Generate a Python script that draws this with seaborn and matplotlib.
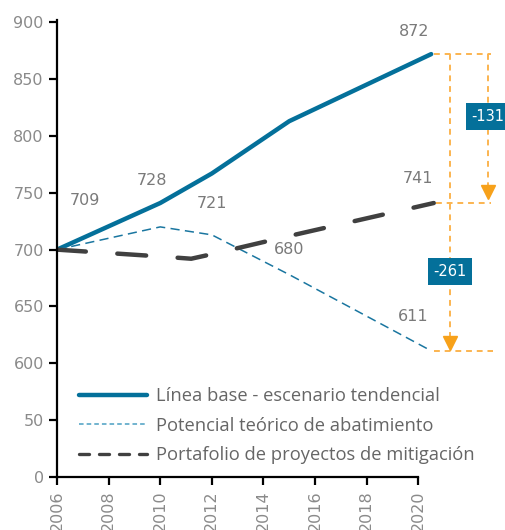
import pandas as pd
import seaborn as sns
import matplotlib.pyplot as plt
import numpy as np

# Línea base - escenario tendencial
base_years = [2006, 2010, 2012, 2015, 2020.5]
base_vals = [700, 741, 767, 813, 872]
# Potencial teórico de abatimiento
pot_years = [2006, 2010, 2012, 2015, 2020.5]
pot_vals = [700, 720, 713, 678, 611]
# Portafolio de proyectos de mitigación
port_years = [2006, 2010, 2011.2, 2012, 2015, 2020.6]
port_vals = [700, 694, 692, 696, 712, 741]

labels = ['Línea base - escenario tendencial',
          'Potencial teórico de abatimiento',
          'Portafolio de proyectos de mitigación']

# value labels shown on the chart (text, year, value position)
point_labels = [('709', 2007.1, 743), ('728', 2009.7, 761), ('721', 2012.0, 741),
                ('680', 2015.0, 700), ('611', 2019.8, 641), ('741', 2020.0, 763),
                ('872', 2019.85, 892)]

yticks = [500, 550, 600, 650, 700, 750, 800, 850, 900]
ytick_labels = ['0', '50', '600', '650', '700', '750', '800', '850', '900']
xticks = [2006, 2008, 2010, 2012, 2014, 2016, 2018, 2020]

blue = '#04709A'
line_blue = '#1A76A0'
legend_blue = '#4A9FC2'
dark = '#404040'
orange = '#F7A11A'
light_orange = '#FBB450'
grey = '#7a7a7a'

sns.set_style('ticks')
plt.rcParams['font.family'] = ['Open Sans', 'DejaVu Sans']

fig = plt.figure(figsize=(5.05, 5.30), dpi=100)
ax = fig.add_axes([57 / 505, 53 / 530, 448 / 505, 457 / 530])

sns.lineplot(x=base_years, y=base_vals, ax=ax, color=blue, linewidth=3.2,
             label=labels[0], solid_capstyle='round')
sns.lineplot(x=pot_years, y=pot_vals, ax=ax, color=line_blue, linewidth=1.1,
             label=labels[1])
ax.lines[-1].set_linestyle((0, (6, 3.5)))
sns.lineplot(x=port_years, y=port_vals, ax=ax, color=dark, linewidth=3.2,
             label=labels[2])
ax.lines[-1].set_linestyle((0, (6.5, 7.1)))
ax.lines[-1].set_dash_capstyle('round')

ax.set_xlim(2006, 2023.36)
ax.set_ylim(500, 902)
ax.spines['bottom'].set_bounds(2006, 2020)
ax.spines['left'].set_bounds(500, 902)
sns.despine(ax=ax)
for s in ['left', 'bottom']:
    ax.spines[s].set_color('black')
    ax.spines[s].set_linewidth(1.6)

ax.set_yticks(yticks)
ax.set_yticklabels(ytick_labels, family=['DejaVu Sans'])
ax.set_xticks(xticks)
ax.set_xticklabels([str(x) for x in xticks], rotation=90, family=['DejaVu Sans'])
ax.tick_params(axis='both', colors='black', labelcolor='#8a8a8a', labelsize=11.5,
               length=6, width=1.6)
ax.set_xlabel('')
ax.set_ylabel('')

for txt, x, y in point_labels:
    ax.text(x, y, txt, ha='center', va='center', fontsize=11.5, color=grey,
            family=['DejaVu Sans'])

# reduction annotations
odash = dict(color=light_orange, linewidth=1.4, linestyle=(0, (3, 2.5)), clip_on=False)
ax.plot([2020.6, 2022.8], [872, 872], **odash)
ax.plot([2020.7, 2022.8], [741, 741], **odash)
ax.plot([2020.6, 2022.9], [611, 611], **odash)
ax.plot([2022.7, 2022.7], [872, 752], **odash)
ax.plot([2021.23, 2021.23], [872, 620], **odash)
ax.plot([2022.7], [751], marker='v', markersize=9.5, color=orange, clip_on=False)
ax.plot([2021.23], [618], marker='v', markersize=9.5, color=orange, clip_on=False)
ax.text(2022.7, 817, '-131', ha='center', va='center', fontsize=10.5, color='white',
        family=['DejaVu Sans'],
        bbox=dict(boxstyle='square,pad=0.4', facecolor=blue, edgecolor='none'))
ax.text(2021.23, 681, '-261', ha='center', va='center', fontsize=10.5, color='white',
        family=['DejaVu Sans'],
        bbox=dict(boxstyle='square,pad=0.4', facecolor=blue, edgecolor='none'))

leg = ax.legend(loc='lower left', bbox_to_anchor=(0.012, -0.008), frameon=False,
                fontsize=13.2, handlelength=3.7, labelspacing=0.62, handletextpad=0.5)
for t in leg.get_texts():
    t.set_color('#666666')
hl = leg.legend_handles
hl[1].set_color(legend_blue)
hl[1].set_linestyle((0, (3, 2)))
hl[2].set_linewidth(2.4)
hl[2].set_linestyle((0, (3, 3)))

fig.savefig('out.png', dpi=100)
